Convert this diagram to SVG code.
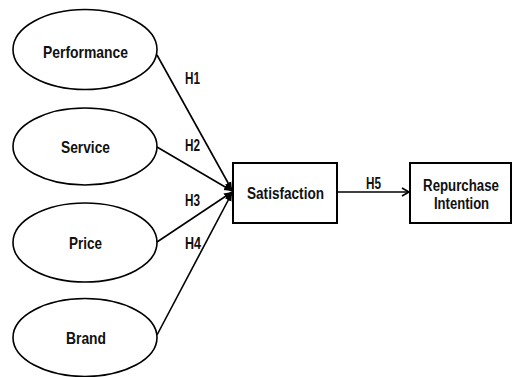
<svg xmlns="http://www.w3.org/2000/svg" width="513" height="377" viewBox="0 0 513 377">
<defs>
<style>
.n{fill:#fff;stroke:#000;stroke-width:1.6}
.b{fill:#fff;stroke:#000;stroke-width:2}
.t{font-family:"Liberation Sans",Arial,sans-serif;font-weight:bold;font-size:17px;fill:#111;text-anchor:middle}
.c{stroke:#000;stroke-width:1.6;fill:none}
</style>
<marker id="ah" markerWidth="10" markerHeight="10" refX="8" refY="5" orient="auto" markerUnits="userSpaceOnUse">
<path d="M0,1.5 L8,5 L0,8.5 Z" fill="#000"/>
</marker>
<marker id="ao" markerWidth="12" markerHeight="12" refX="9" refY="6" orient="auto" markerUnits="userSpaceOnUse">
<path d="M2,2 L9,6 L2,10" fill="none" stroke="#000" stroke-width="1.6"/>
</marker>
</defs>
<rect width="513" height="377" fill="#fff"/>
<g id="performance"><ellipse class="n" cx="85" cy="49.5" rx="72" ry="40"/><text class="t" x="85.5" y="58" textLength="85" lengthAdjust="spacingAndGlyphs">Performance</text></g>
<g id="service"><ellipse class="n" cx="85" cy="146.5" rx="72" ry="38.5"/><text class="t" x="85.5" y="153" textLength="49" lengthAdjust="spacingAndGlyphs">Service</text></g>
<g id="price"><ellipse class="n" cx="85" cy="242.5" rx="72" ry="39.5"/><text class="t" x="85.5" y="249" textLength="33" lengthAdjust="spacingAndGlyphs">Price</text></g>
<g id="brand"><ellipse class="n" cx="85" cy="337.5" rx="72" ry="39"/><text class="t" x="86" y="344" textLength="40" lengthAdjust="spacingAndGlyphs">Brand</text></g>
<g id="satisfaction"><rect class="b" x="233" y="163" width="104" height="60"/><text class="t" x="285.5" y="199" textLength="77" lengthAdjust="spacingAndGlyphs">Satisfaction</text></g>
<g id="repurchase"><rect class="b" x="410" y="163" width="101" height="60"/><text class="t" transform="translate(461,191) scale(0.78,1)">Repurchase</text><text class="t" transform="translate(461.5,209) scale(0.77,1)">Intention</text></g>
<g id="connectors">
<line class="c" x1="157" y1="55" x2="232" y2="190" marker-end="url(#ah)"/>
<line class="c" x1="157" y1="147" x2="232" y2="191" marker-end="url(#ah)"/>
<line class="c" x1="157" y1="242" x2="232" y2="192" marker-end="url(#ah)"/>
<line class="c" x1="157" y1="335" x2="232" y2="193" marker-end="url(#ah)"/>
<line class="c" x1="337" y1="192" x2="409" y2="192" marker-end="url(#ao)"/>
<text class="t" x="192.5" y="84" textLength="15" lengthAdjust="spacingAndGlyphs">H1</text>
<text class="t" x="192.5" y="151" textLength="15" lengthAdjust="spacingAndGlyphs">H2</text>
<text class="t" x="192.5" y="206" textLength="15" lengthAdjust="spacingAndGlyphs">H3</text>
<text class="t" x="193" y="249" textLength="16" lengthAdjust="spacingAndGlyphs">H4</text>
<text class="t" x="373.5" y="189" textLength="15" lengthAdjust="spacingAndGlyphs">H5</text>
</g>
</svg>
